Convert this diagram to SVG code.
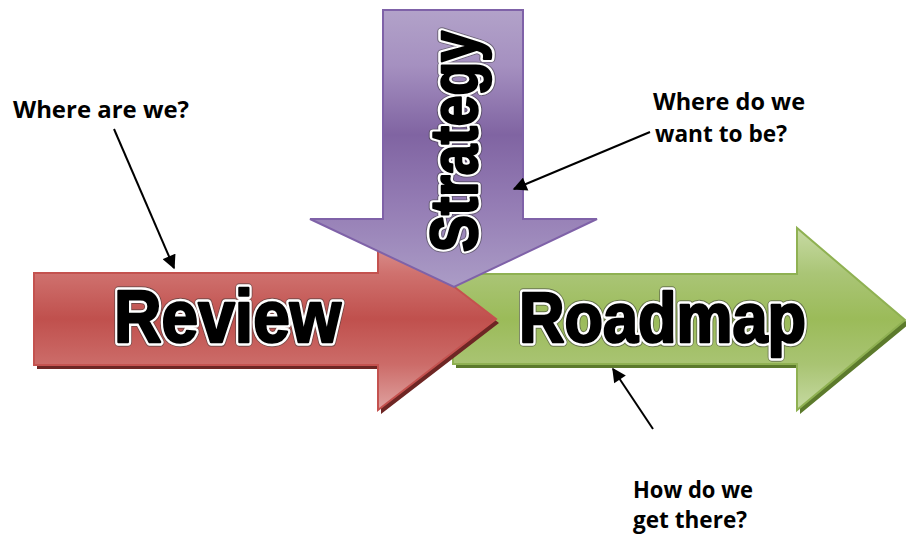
<svg xmlns="http://www.w3.org/2000/svg" width="906" height="540" viewBox="0 0 906 540">
<defs>
<style>
.big{font-family:"Liberation Sans",Arial,sans-serif;font-weight:700;fill:#000;stroke:#000;stroke-width:2.5;stroke-linejoin:round}
.bigwhite{font-family:"Liberation Sans",Arial,sans-serif;font-weight:700;fill:#fff;stroke:#fff;stroke-width:7.5;stroke-linejoin:round}
.bigedge{font-family:"Liberation Sans",Arial,sans-serif;font-weight:700;fill:none;stroke:#3a3a3a;stroke-width:9.5;stroke-linejoin:round;opacity:0.55}
.lbl{font-family:"Open Sans","Liberation Sans",sans-serif;font-weight:700;font-size:23px;fill:#000}
.conn{stroke:#000;stroke-width:2;fill:none;marker-end:url(#ah)}
</style>
<marker id="ah" viewBox="0 0 10 10" refX="9" refY="5" markerWidth="7.5" markerHeight="7" orient="auto" markerUnits="strokeWidth">
<path d="M0,0 L10,5 L0,10 Z" fill="#000"/>
</marker>
<linearGradient id="gRed" gradientUnits="userSpaceOnUse" x1="0" y1="228" x2="0" y2="410">
<stop offset="0" stop-color="#e0a3a1"/>
<stop offset="0.25" stop-color="#cf716e"/>
<stop offset="0.5" stop-color="#c0504d"/>
<stop offset="0.75" stop-color="#cc6c69"/>
<stop offset="1" stop-color="#dfa2a0"/>
</linearGradient>
<linearGradient id="gGreen" gradientUnits="userSpaceOnUse" x1="0" y1="228" x2="0" y2="410">
<stop offset="0" stop-color="#c8dba5"/>
<stop offset="0.25" stop-color="#aac576"/>
<stop offset="0.5" stop-color="#9bbb59"/>
<stop offset="0.75" stop-color="#a9c473"/>
<stop offset="1" stop-color="#c6daa2"/>
</linearGradient>
<linearGradient id="gPurple" gradientUnits="userSpaceOnUse" x1="0" y1="10" x2="0" y2="287">
<stop offset="0" stop-color="#b2a2c9"/>
<stop offset="0.2" stop-color="#a590c0"/>
<stop offset="0.45" stop-color="#8064a2"/>
<stop offset="0.7" stop-color="#947cb4"/>
<stop offset="1" stop-color="#ab9cc6"/>
</linearGradient>
</defs>
<rect width="906" height="540" fill="#fff"/>

<g id="roadmap">
<polygon points="456,278 800,278 800,232 909,324 800,414 800,368 456,368" fill="#5c7a2c"/>
<polygon points="453,274 797,274 797,228 905,320 797,410 797,364 453,364" fill="url(#gGreen)" stroke="#8fb152" stroke-width="2"/>
<text class="bigedge" x="519" y="342" font-size="71" textLength="287" lengthAdjust="spacingAndGlyphs">Roadmap</text>
<text class="bigwhite" x="519" y="342" font-size="71" textLength="287" lengthAdjust="spacingAndGlyphs">Roadmap</text>
<text class="big" x="519" y="342" font-size="71" textLength="287" lengthAdjust="spacingAndGlyphs">Roadmap</text>
</g>

<g id="review">
<polygon points="37,277 381,277 381,232 499,323 381,414 381,369 37,369" fill="#6e2624"/>
<polygon points="34,273 378,273 378,228 496,319 378,410 378,365 34,365" fill="url(#gRed)" stroke="#c4524f" stroke-width="2"/>
<text class="bigedge" x="114" y="342" font-size="75" textLength="227" lengthAdjust="spacingAndGlyphs">Review</text>
<text class="bigwhite" x="114" y="342" font-size="75" textLength="227" lengthAdjust="spacingAndGlyphs">Review</text>
<text class="big" x="114" y="342" font-size="75" textLength="227" lengthAdjust="spacingAndGlyphs">Review</text>
</g>

<g id="strategy">
<polygon points="383,10 523,10 523,219 597,219 454,287 310,219 383,219" fill="url(#gPurple)" stroke="#7f62a8" stroke-width="2"/>
<g transform="rotate(-90)">
<text class="bigedge" x="-252" y="477" font-size="66" textLength="221" lengthAdjust="spacingAndGlyphs">Strategy</text>
<text class="bigwhite" x="-252" y="477" font-size="66" textLength="221" lengthAdjust="spacingAndGlyphs">Strategy</text>
<text class="big" x="-252" y="477" font-size="66" textLength="221" lengthAdjust="spacingAndGlyphs">Strategy</text>
</g>
</g>

<g id="label-where-are-we">
<text class="lbl" x="13" y="118" textLength="176" lengthAdjust="spacingAndGlyphs">Where are we?</text>
</g>
<g id="label-where-do-we">
<text class="lbl" x="653" y="110" textLength="152" lengthAdjust="spacingAndGlyphs">Where do we</text>
<text class="lbl" x="655" y="142" textLength="132" lengthAdjust="spacingAndGlyphs">want to be?</text>
</g>
<g id="label-how-do-we">
<text class="lbl" x="633" y="498" textLength="120" lengthAdjust="spacingAndGlyphs">How do we</text>
<text class="lbl" x="633" y="528" textLength="114" lengthAdjust="spacingAndGlyphs">get there?</text>
</g>

<g id="connectors">
<line class="conn" x1="114" y1="129" x2="174" y2="268"/>
<line class="conn" x1="650" y1="132" x2="514" y2="189"/>
<line class="conn" x1="653" y1="429" x2="613" y2="369"/>
</g>
</svg>
